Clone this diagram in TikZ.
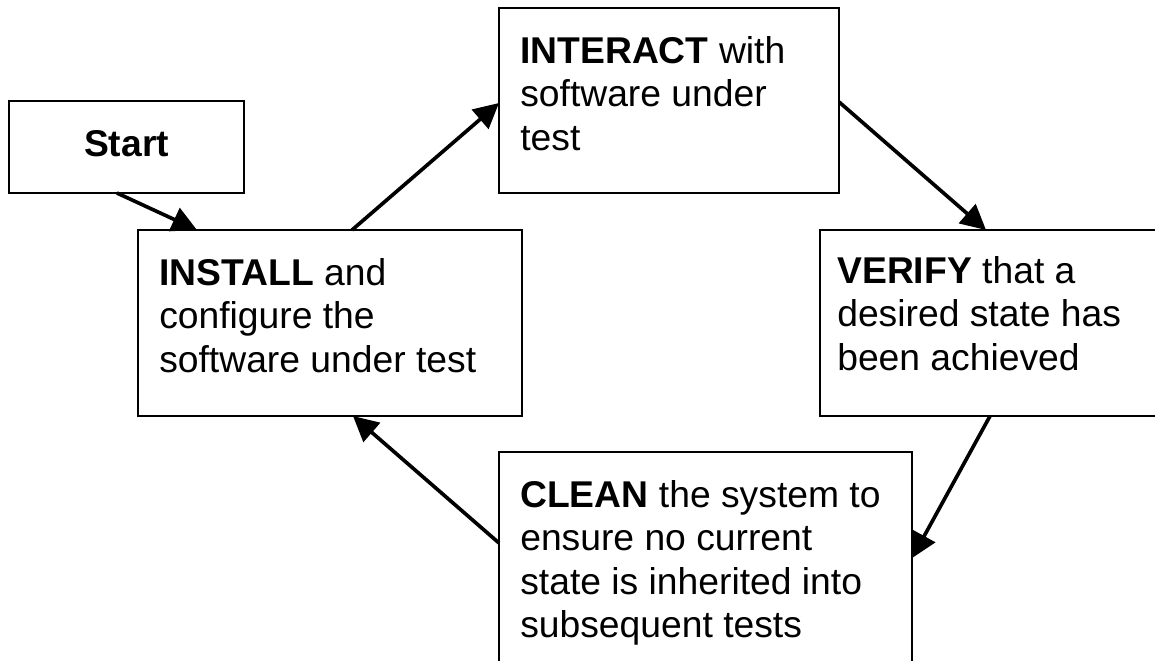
\documentclass[tikz,border=0pt]{standalone}
\usepackage{fontspec}
\setmainfont{Liberation Sans}
\usetikzlibrary{arrows.meta,calc}
\begin{document}
\begin{tikzpicture}[x=0.025cm, y=-0.025cm,
  box/.style={draw, line width=1.3pt, fill=white, inner sep=0pt, outer sep=0pt, anchor=north west, minimum height=4.65cm},
  txt/.style={inner sep=0pt, anchor=base west, font=\fontsize{26.5}{31}\selectfont},
  conn/.style={line width=2.6pt, -{Triangle[length=17.8pt,width=17.8pt]}}]
\useasboundingbox (0,0) rectangle (1155,660);
\clip (0,0) rectangle (1155,660);
% boxes
\node[box, minimum width=5.875cm, minimum height=2.3cm,
      font=\bfseries\fontsize{26.5}{31}\selectfont, text height=0.68cm, text depth=0.225cm] (start) at (9,101) {Start};
\node[box, minimum width=8.5cm, minimum height=4.625cm] (interact) at (499,8) {};
\node[box, minimum width=9.6cm] (install) at (138,230) {};
\node[box, minimum width=8.75cm] (verify) at (820,230) {};
\node[box, minimum width=10.325cm, minimum height=5.7cm] (clean) at (499,452) {};
% texts
\node[txt] (interacttxt) at ($(interact.north west)+(21,55)$)
  {\parbox[t]{8cm}{\textbf{INTERACT} with\\software under\\test}};
\node[txt] (installtxt) at ($(install.north west)+(21,55)$)
  {\parbox[t]{9cm}{\textbf{INSTALL} and\\configure the\\software under test}};
\node[txt] (verifytxt) at ($(verify.north west)+(17,53)$)
  {\parbox[t]{8cm}{\textbf{VERIFY} that a\\desired state has\\been achieved}};
\node[txt] (cleantxt) at ($(clean.north west)+(21,55)$)
  {\parbox[t]{10cm}{\textbf{CLEAN} the system to\\ensure no current\\state is inherited into\\subsequent tests}};
% connectors
\draw[conn] ($(start.south west)+(108,0)$) -- ($(install.north west)+(59,0)$);
\draw[conn] ($(install.north west)+(214,0)$) -- ($(interact.north west)+(0,95)$);
\draw[conn] ($(interact.north east)+(0,94)$) -- ($(verify.north west)+(166,0)$);
\draw[conn] ($(verify.south west)+(170,0)$) -- ($(clean.north east)+(0,106)$);
\draw[conn] ($(clean.north west)+(0,91)$) -- ($(install.south west)+(215,0)$);
\end{tikzpicture}
\end{document}
